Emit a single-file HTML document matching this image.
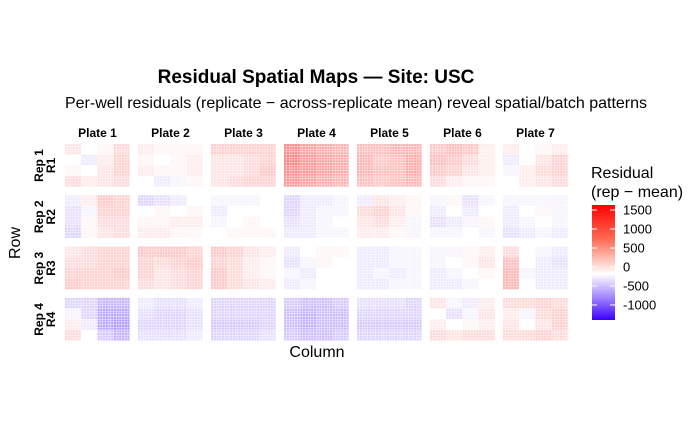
<!DOCTYPE html>
<html><head><meta charset="utf-8"><style>
body{margin:0;background:#fff;}
svg text{font-family:"Liberation Sans",Arial,sans-serif;fill:#000;}
</style></head><body>
<svg id="chart" width="700" height="432" xmlns="http://www.w3.org/2000/svg">
<defs><linearGradient id="lg" x1="0" y1="0" x2="0" y2="1">
<stop offset="0" stop-color="#ff0000"/><stop offset="0.295" stop-color="#ff6a55"/><stop offset="0.6" stop-color="#ffffff"/><stop offset="0.8" stop-color="#a488ff"/><stop offset="1" stop-color="#3c00ff"/></linearGradient></defs>
<text x="316" y="83" font-size="19" font-weight="bold" text-anchor="middle">Residual Spatial Maps — Site: USC</text>
<text x="356" y="108" font-size="16" text-anchor="middle">Per-well residuals (replicate − across-replicate mean) reveal spatial/batch patterns</text>
<text transform="translate(20,243) rotate(-90)" font-size="16" text-anchor="middle">Row</text>
<text x="317" y="357" font-size="16" text-anchor="middle">Column</text>
<g id="panels"></g>
<g>
<text x="591" y="178" font-size="16">Residual</text>
<text x="591" y="197" font-size="16">(rep − mean)</text>
<rect x="592" y="205" width="23" height="115" fill="url(#lg)"/>
<g id="legticks"></g>
</g>
</svg>
<script>
const plates=["Plate 1","Plate 2","Plate 3","Plate 4","Plate 5","Plate 6","Plate 7"];
const reps=["Rep 1","Rep 2","Rep 3","Rep 4"];
const repShort=["R1","R2","R3","R4"];
const legendTicks=[1500,1000,500,0,-500,-1000];
// block residuals: [rep][plate] -> 4x4 blocks (rows of blocks top->bottom)
const rep1=[
[[150,0,50,200],[0,-100,100,250],[50,0,150,250],[200,100,150,200]],
[[100,50,50,50],[50,0,50,100],[100,50,50,100],[0,-100,-50,50]],
[[250,250,250,250],[150,150,200,250],[150,150,200,300],[150,200,250,250]],
[[600,500,450,400],[650,550,500,450],[600,550,500,450],[550,500,450,400]],
[[350,350,400,400],[400,300,350,450],[400,350,350,450],[350,300,350,400]],
[[300,350,300,100],[350,300,200,100],[300,250,150,100],[200,100,50,50]],
[[100,0,50,100],[-100,0,150,250],[-50,100,200,250],[0,100,150,200]]];
const rep2=[
[[-100,100,300,250],[-150,-50,250,250],[-150,50,200,200],[-200,50,150,200]],
[[-200,-150,-100,0],[0,50,0,50],[50,50,100,100],[100,100,50,50]],
[[-50,-50,-50,0],[-100,0,0,0],[-50,0,50,0],[0,50,50,50]],
[[-200,-100,-100,-50],[-200,-100,-50,-50],[-150,-100,-50,0],[-100,-100,-50,-50]],
[[-100,150,100,50],[200,250,150,50],[150,200,100,-50],[100,100,50,-50]],
[[-50,50,-150,-50],[-100,0,-100,0],[-150,-100,-50,50],[-50,-50,0,-50]],
[[-50,-50,-50,-50],[-100,0,50,-50],[-100,-50,0,-50],[-150,-100,-50,-100]]];
const rep3=[
[[150,200,250,250],[200,200,250,250],[250,250,250,300],[300,250,250,250]],
[[300,300,300,250],[250,200,250,300],[250,150,200,250],[200,150,200,250]],
[[300,250,150,100],[250,200,100,50],[300,200,100,50],[300,200,150,100]],
[[-100,0,50,50],[-150,-50,50,0],[-50,-100,0,0],[-100,-50,0,0]],
[[-100,-100,-50,-50],[-100,-100,-50,-50],[-100,-50,-100,-50],[-100,-100,-50,-50]],
[[-50,-50,50,100],[-50,0,50,150],[-100,-50,0,50],[-100,-100,-50,0]],
[[200,0,-50,-100],[350,0,-100,-150],[400,-50,-100,-100],[400,0,-100,-100]]];
const rep4=[
[[-200,-200,-350,-350],[-50,-200,-400,-400],[100,-100,-400,-450],[200,0,-250,-350]],
[[-100,-150,-150,-100],[-150,-200,-200,-150],[-200,-200,-200,-150],[-150,-150,-150,-100]],
[[-200,-200,-200,-200],[-200,-200,-200,-200],[-250,-250,-250,-200],[-200,-200,-200,-150]],
[[-250,-300,-300,-250],[-300,-350,-300,-300],[-300,-350,-300,-300],[-250,-300,-300,-250]],
[[-150,-150,-150,-200],[-200,-200,-200,-200],[-250,-250,-250,-250],[-200,-200,-200,-200]],
[[150,-50,-100,100],[0,-150,-50,150],[100,0,50,100],[200,150,200,200]],
[[200,200,250,200],[100,-50,200,250],[150,0,150,250],[200,200,250,200]]];
const residuals=[rep1,rep2,rep3,rep4];

const NS="http://www.w3.org/2000/svg";
const x0=65,y0=144,pw=65,ph=43,dx=73,dy=51.3,nc=24,nr=16;
function color(v){
  if(v>=0){const t=Math.min(v/1300,1);const g=Math.round(255*(1-t)),b=Math.round(255*(1-t));return `rgb(255,${g},${b})`;}
  const t=Math.min(-v/1150,1);return `rgb(${Math.round(255-(255-60)*t)},${Math.round(255*(1-t))},255)`;
}
function legY(v){return 267-v*(57/1500);}
const gp=document.getElementById('panels');
plates.forEach((p,j)=>{
  const t=document.createElementNS(NS,'text');
  
  
  t.setAttribute('x',x0+j*dx+pw/2);t.setAttribute('y',137);t.setAttribute('font-size','12');t.setAttribute('font-weight','bold');t.setAttribute('text-anchor','middle');
  t.textContent=p;gp.appendChild(t);
});
reps.forEach((r,i)=>{
  const cy=y0+i*dy+ph/2;
  const t=document.createElementNS(NS,'text');
  
  
  t.setAttribute('transform',`translate(43,${cy}) rotate(-90)`);t.setAttribute('font-size','12');t.setAttribute('font-weight','bold');t.setAttribute('text-anchor','middle');
  t.textContent=r;gp.appendChild(t);
  const t2=document.createElementNS(NS,'text');
  
  
  t2.setAttribute('transform',`translate(55,${cy}) rotate(-90)`);t2.setAttribute('font-size','12');t2.setAttribute('font-weight','bold');t2.setAttribute('text-anchor','middle');
  t2.textContent=repShort[i];gp.appendChild(t2);
  plates.forEach((p,j)=>{
    const g=document.createElementNS(NS,'g');
    
    
    const blocks=residuals[i][j];
    const cw=pw/nc,ch=ph/nr;
    for(let rr=0;rr<nr;rr++)for(let cc=0;cc<nc;cc++){
      const v=blocks[Math.floor(rr/4)][Math.floor(cc/6)];
      const rc=document.createElementNS(NS,'rect');
      
      
      rc.setAttribute('x',(x0+j*dx+cc*cw).toFixed(2));rc.setAttribute('y',(y0+i*dy+rr*ch).toFixed(2));
      rc.setAttribute('width',(cw-0.4).toFixed(2));rc.setAttribute('height',(ch-0.4).toFixed(2));
      rc.setAttribute('fill',color(v));g.appendChild(rc);
    }
    gp.appendChild(g);
  });
});
const lt=document.getElementById('legticks');
legendTicks.forEach(v=>{
  const y=legY(v);
  const l=document.createElementNS(NS,'line');
  
  
  l.setAttribute('x1',592);l.setAttribute('x2',597);l.setAttribute('y1',y);l.setAttribute('y2',y);l.setAttribute('stroke','#fff');lt.appendChild(l);
  const l2=l.cloneNode();l2.setAttribute('x1',610);l2.setAttribute('x2',615);
  
  lt.appendChild(l2);
  const t=document.createElementNS(NS,'text');
  
  
  t.setAttribute('x',623);t.setAttribute('y',y+4.5);t.setAttribute('font-size','13');
  t.textContent=v;lt.appendChild(t);
});
</script>
</body></html>
